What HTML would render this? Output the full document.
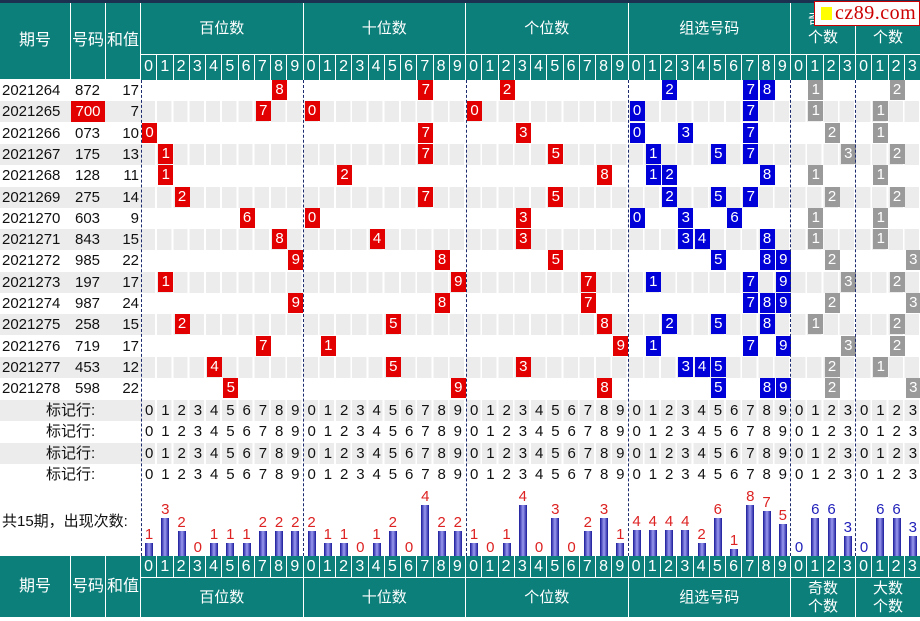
<!DOCTYPE html>
<html><head><meta charset="utf-8">
<style>
*{margin:0;padding:0;box-sizing:border-box}
body{width:920px;height:621px;position:relative;background:#fff;font-family:"Liberation Sans","Noto Sans CJK SC",sans-serif;overflow:hidden}
div,i,b,span{position:absolute;font-style:normal;font-weight:normal}
.tl{background:#0c7f7a;color:#fff;text-align:center;font-size:15px;display:flex;align-items:center;justify-content:center;border-right:1px solid #fff;border-bottom:1px solid #fff;line-height:1.2}
.g0{--b:141px}.g1{--b:303.5px}.g2{--b:466px}.g3{--b:628.5px}.q0{--b:791px}.q1{--b:856px}
.d{left:calc(var(--b) + var(--c)*16.25px);width:16.25px;height:100%;text-align:center}
.hd{background:#0c7f7a;color:#fff;font-size:16px;border-right:1px solid #fff;line-height:24px}
.row{left:0;width:920px;height:21px;font-size:15px;line-height:21px;color:#111}
.gr::before{content:"";position:absolute;left:0;top:0;width:141px;height:21px;background:#ececec}
.gr::after{content:"";position:absolute;left:141px;top:0;width:779px;height:21px;background:repeating-linear-gradient(90deg,#ececec 0 14.25px,#fff 14.25px 16.25px)}
.row>*{z-index:1}
.m{left:calc(var(--b) + var(--c)*16.25px + 1px);width:15px;height:20px;top:0;color:#fff;text-align:center;line-height:20px;font-size:15px}
.r{background:#e20000}.bl{background:#0000d8}.gy{background:#9a9a9a}
.vl{top:80px;height:476px;width:0;border-left:1.5px dashed #1c2a6e;z-index:2}
.mk{font-size:15px;line-height:21px;letter-spacing:7.9px}
.bar{bottom:65px;left:calc(var(--b) + var(--c)*16.25px + 4px);width:8px;background:linear-gradient(90deg,#1a1a9a,#9a9af0 50%,#1a1a9a)}
.bar em{position:absolute;bottom:100%;left:-4px;width:16px;text-align:center;font-style:normal;font-size:15px;color:#d22;line-height:17px}
.bar.z{background:none}
.bb em{color:#2222bb}
</style></head><body>
<div style="left:0;top:0;width:920px;height:3px;background:#1c3050"></div>
<div class="tl" style="left:0;top:3px;width:71px;height:77px;font-size:16px">期号</div>
<div class="tl" style="left:71px;top:3px;width:35px;height:77px;font-size:16px">号码</div>
<div class="tl" style="left:106px;top:3px;width:35px;height:77px;font-size:16px">和值</div>
<div class="tl" style="left:141px;top:3px;width:162.5px;height:52px">百位数</div>
<div class="tl" style="left:303.5px;top:3px;width:162.5px;height:52px">十位数</div>
<div class="tl" style="left:466px;top:3px;width:162.5px;height:52px">个位数</div>
<div class="tl" style="left:628.5px;top:3px;width:162.5px;height:52px">组选号码</div>
<div class="tl" style="left:791px;top:3px;width:65px;height:52px">奇数<br>个数</div>
<div class="tl" style="left:856px;top:3px;width:64px;height:52px;border-right:0">大数<br>个数</div>
<div style="left:0;top:55px;width:920px;height:25px">
<i class="d hd g0" style="--c:0">0</i><i class="d hd g0" style="--c:1">1</i><i class="d hd g0" style="--c:2">2</i><i class="d hd g0" style="--c:3">3</i><i class="d hd g0" style="--c:4">4</i><i class="d hd g0" style="--c:5">5</i><i class="d hd g0" style="--c:6">6</i><i class="d hd g0" style="--c:7">7</i><i class="d hd g0" style="--c:8">8</i><i class="d hd g0" style="--c:9">9</i>
<i class="d hd g1" style="--c:0">0</i><i class="d hd g1" style="--c:1">1</i><i class="d hd g1" style="--c:2">2</i><i class="d hd g1" style="--c:3">3</i><i class="d hd g1" style="--c:4">4</i><i class="d hd g1" style="--c:5">5</i><i class="d hd g1" style="--c:6">6</i><i class="d hd g1" style="--c:7">7</i><i class="d hd g1" style="--c:8">8</i><i class="d hd g1" style="--c:9">9</i>
<i class="d hd g2" style="--c:0">0</i><i class="d hd g2" style="--c:1">1</i><i class="d hd g2" style="--c:2">2</i><i class="d hd g2" style="--c:3">3</i><i class="d hd g2" style="--c:4">4</i><i class="d hd g2" style="--c:5">5</i><i class="d hd g2" style="--c:6">6</i><i class="d hd g2" style="--c:7">7</i><i class="d hd g2" style="--c:8">8</i><i class="d hd g2" style="--c:9">9</i>
<i class="d hd g3" style="--c:0">0</i><i class="d hd g3" style="--c:1">1</i><i class="d hd g3" style="--c:2">2</i><i class="d hd g3" style="--c:3">3</i><i class="d hd g3" style="--c:4">4</i><i class="d hd g3" style="--c:5">5</i><i class="d hd g3" style="--c:6">6</i><i class="d hd g3" style="--c:7">7</i><i class="d hd g3" style="--c:8">8</i><i class="d hd g3" style="--c:9">9</i>
<i class="d hd q0" style="--c:0">0</i><i class="d hd q0" style="--c:1">1</i><i class="d hd q0" style="--c:2">2</i><i class="d hd q0" style="--c:3">3</i>
<i class="d hd q1" style="--c:0">0</i><i class="d hd q1" style="--c:1">1</i><i class="d hd q1" style="--c:2">2</i><i class="d hd q1" style="--c:3">3</i>
</div>

<div class="row" style="top:80px"><span style="left:2px">2021264</span><span style="left:75px">872</span><span style="left:106px;width:33px;text-align:right">17</span><i class="m r g0" style="--c:8">8</i><i class="m r g1" style="--c:7">7</i><i class="m r g2" style="--c:2">2</i><i class="m bl g3" style="--c:2">2</i><i class="m bl g3" style="--c:7">7</i><i class="m bl g3" style="--c:8">8</i><i class="m gy q0" style="--c:1">1</i><i class="m gy q1" style="--c:2">2</i></div>
<div class="row gr" style="top:101px"><span style="left:2px">2021265</span><span style="left:71px;width:34px;background:#e20000;color:#fff;text-align:center">700</span><span style="left:106px;width:33px;text-align:right">7</span><i class="m r g0" style="--c:7">7</i><i class="m r g1" style="--c:0">0</i><i class="m r g2" style="--c:0">0</i><i class="m bl g3" style="--c:0">0</i><i class="m bl g3" style="--c:7">7</i><i class="m gy q0" style="--c:1">1</i><i class="m gy q1" style="--c:1">1</i></div>
<div class="row" style="top:123px"><span style="left:2px">2021266</span><span style="left:75px">073</span><span style="left:106px;width:33px;text-align:right">10</span><i class="m r g0" style="--c:0">0</i><i class="m r g1" style="--c:7">7</i><i class="m r g2" style="--c:3">3</i><i class="m bl g3" style="--c:0">0</i><i class="m bl g3" style="--c:3">3</i><i class="m bl g3" style="--c:7">7</i><i class="m gy q0" style="--c:2">2</i><i class="m gy q1" style="--c:1">1</i></div>
<div class="row gr" style="top:144px"><span style="left:2px">2021267</span><span style="left:75px">175</span><span style="left:106px;width:33px;text-align:right">13</span><i class="m r g0" style="--c:1">1</i><i class="m r g1" style="--c:7">7</i><i class="m r g2" style="--c:5">5</i><i class="m bl g3" style="--c:1">1</i><i class="m bl g3" style="--c:5">5</i><i class="m bl g3" style="--c:7">7</i><i class="m gy q0" style="--c:3">3</i><i class="m gy q1" style="--c:2">2</i></div>
<div class="row" style="top:165px"><span style="left:2px">2021268</span><span style="left:75px">128</span><span style="left:106px;width:33px;text-align:right">11</span><i class="m r g0" style="--c:1">1</i><i class="m r g1" style="--c:2">2</i><i class="m r g2" style="--c:8">8</i><i class="m bl g3" style="--c:1">1</i><i class="m bl g3" style="--c:2">2</i><i class="m bl g3" style="--c:8">8</i><i class="m gy q0" style="--c:1">1</i><i class="m gy q1" style="--c:1">1</i></div>
<div class="row gr" style="top:187px"><span style="left:2px">2021269</span><span style="left:75px">275</span><span style="left:106px;width:33px;text-align:right">14</span><i class="m r g0" style="--c:2">2</i><i class="m r g1" style="--c:7">7</i><i class="m r g2" style="--c:5">5</i><i class="m bl g3" style="--c:2">2</i><i class="m bl g3" style="--c:5">5</i><i class="m bl g3" style="--c:7">7</i><i class="m gy q0" style="--c:2">2</i><i class="m gy q1" style="--c:2">2</i></div>
<div class="row" style="top:208px"><span style="left:2px">2021270</span><span style="left:75px">603</span><span style="left:106px;width:33px;text-align:right">9</span><i class="m r g0" style="--c:6">6</i><i class="m r g1" style="--c:0">0</i><i class="m r g2" style="--c:3">3</i><i class="m bl g3" style="--c:0">0</i><i class="m bl g3" style="--c:3">3</i><i class="m bl g3" style="--c:6">6</i><i class="m gy q0" style="--c:1">1</i><i class="m gy q1" style="--c:1">1</i></div>
<div class="row gr" style="top:229px"><span style="left:2px">2021271</span><span style="left:75px">843</span><span style="left:106px;width:33px;text-align:right">15</span><i class="m r g0" style="--c:8">8</i><i class="m r g1" style="--c:4">4</i><i class="m r g2" style="--c:3">3</i><i class="m bl g3" style="--c:3">3</i><i class="m bl g3" style="--c:4">4</i><i class="m bl g3" style="--c:8">8</i><i class="m gy q0" style="--c:1">1</i><i class="m gy q1" style="--c:1">1</i></div>
<div class="row" style="top:250px"><span style="left:2px">2021272</span><span style="left:75px">985</span><span style="left:106px;width:33px;text-align:right">22</span><i class="m r g0" style="--c:9">9</i><i class="m r g1" style="--c:8">8</i><i class="m r g2" style="--c:5">5</i><i class="m bl g3" style="--c:5">5</i><i class="m bl g3" style="--c:8">8</i><i class="m bl g3" style="--c:9">9</i><i class="m gy q0" style="--c:2">2</i><i class="m gy q1" style="--c:3">3</i></div>
<div class="row gr" style="top:272px"><span style="left:2px">2021273</span><span style="left:75px">197</span><span style="left:106px;width:33px;text-align:right">17</span><i class="m r g0" style="--c:1">1</i><i class="m r g1" style="--c:9">9</i><i class="m r g2" style="--c:7">7</i><i class="m bl g3" style="--c:1">1</i><i class="m bl g3" style="--c:7">7</i><i class="m bl g3" style="--c:9">9</i><i class="m gy q0" style="--c:3">3</i><i class="m gy q1" style="--c:2">2</i></div>
<div class="row" style="top:293px"><span style="left:2px">2021274</span><span style="left:75px">987</span><span style="left:106px;width:33px;text-align:right">24</span><i class="m r g0" style="--c:9">9</i><i class="m r g1" style="--c:8">8</i><i class="m r g2" style="--c:7">7</i><i class="m bl g3" style="--c:7">7</i><i class="m bl g3" style="--c:8">8</i><i class="m bl g3" style="--c:9">9</i><i class="m gy q0" style="--c:2">2</i><i class="m gy q1" style="--c:3">3</i></div>
<div class="row gr" style="top:314px"><span style="left:2px">2021275</span><span style="left:75px">258</span><span style="left:106px;width:33px;text-align:right">15</span><i class="m r g0" style="--c:2">2</i><i class="m r g1" style="--c:5">5</i><i class="m r g2" style="--c:8">8</i><i class="m bl g3" style="--c:2">2</i><i class="m bl g3" style="--c:5">5</i><i class="m bl g3" style="--c:8">8</i><i class="m gy q0" style="--c:1">1</i><i class="m gy q1" style="--c:2">2</i></div>
<div class="row" style="top:336px"><span style="left:2px">2021276</span><span style="left:75px">719</span><span style="left:106px;width:33px;text-align:right">17</span><i class="m r g0" style="--c:7">7</i><i class="m r g1" style="--c:1">1</i><i class="m r g2" style="--c:9">9</i><i class="m bl g3" style="--c:1">1</i><i class="m bl g3" style="--c:7">7</i><i class="m bl g3" style="--c:9">9</i><i class="m gy q0" style="--c:3">3</i><i class="m gy q1" style="--c:2">2</i></div>
<div class="row gr" style="top:357px"><span style="left:2px">2021277</span><span style="left:75px">453</span><span style="left:106px;width:33px;text-align:right">12</span><i class="m r g0" style="--c:4">4</i><i class="m r g1" style="--c:5">5</i><i class="m r g2" style="--c:3">3</i><i class="m bl g3" style="--c:3">3</i><i class="m bl g3" style="--c:4">4</i><i class="m bl g3" style="--c:5">5</i><i class="m gy q0" style="--c:2">2</i><i class="m gy q1" style="--c:1">1</i></div>
<div class="row" style="top:378px"><span style="left:2px">2021278</span><span style="left:75px">598</span><span style="left:106px;width:33px;text-align:right">22</span><i class="m r g0" style="--c:5">5</i><i class="m r g1" style="--c:9">9</i><i class="m r g2" style="--c:8">8</i><i class="m bl g3" style="--c:5">5</i><i class="m bl g3" style="--c:8">8</i><i class="m bl g3" style="--c:9">9</i><i class="m gy q0" style="--c:2">2</i><i class="m gy q1" style="--c:3">3</i></div>

<div class="row gr" style="top:400px"><span style="left:46px">标记行:</span><span class="mk" style="left:145px">0123456789</span><span class="mk" style="left:307.5px">0123456789</span><span class="mk" style="left:470px">0123456789</span><span class="mk" style="left:632.5px">0123456789</span><span class="mk" style="left:795px">0123</span><span class="mk" style="left:860px">0123</span></div>
<div class="row" style="top:421px"><span style="left:46px">标记行:</span><span class="mk" style="left:145px">0123456789</span><span class="mk" style="left:307.5px">0123456789</span><span class="mk" style="left:470px">0123456789</span><span class="mk" style="left:632.5px">0123456789</span><span class="mk" style="left:795px">0123</span><span class="mk" style="left:860px">0123</span></div>
<div class="row gr" style="top:443px"><span style="left:46px">标记行:</span><span class="mk" style="left:145px">0123456789</span><span class="mk" style="left:307.5px">0123456789</span><span class="mk" style="left:470px">0123456789</span><span class="mk" style="left:632.5px">0123456789</span><span class="mk" style="left:795px">0123</span><span class="mk" style="left:860px">0123</span></div>
<div class="row" style="top:464px"><span style="left:46px">标记行:</span><span class="mk" style="left:145px">0123456789</span><span class="mk" style="left:307.5px">0123456789</span><span class="mk" style="left:470px">0123456789</span><span class="mk" style="left:632.5px">0123456789</span><span class="mk" style="left:795px">0123</span><span class="mk" style="left:860px">0123</span></div>

<div style="left:2px;top:510px;font-size:15px;color:#111">共15期，出现次数:</div>
<b class="bar g0" style="--c:0;height:13px"><em>1</em></b><b class="bar g0" style="--c:1;height:38px"><em>3</em></b><b class="bar g0" style="--c:2;height:25px"><em>2</em></b><b class="bar g0 z" style="--c:3;height:0"><em>0</em></b><b class="bar g0" style="--c:4;height:13px"><em>1</em></b><b class="bar g0" style="--c:5;height:13px"><em>1</em></b><b class="bar g0" style="--c:6;height:13px"><em>1</em></b><b class="bar g0" style="--c:7;height:25px"><em>2</em></b><b class="bar g0" style="--c:8;height:25px"><em>2</em></b><b class="bar g0" style="--c:9;height:25px"><em>2</em></b>
<b class="bar g1" style="--c:0;height:25px"><em>2</em></b><b class="bar g1" style="--c:1;height:13px"><em>1</em></b><b class="bar g1" style="--c:2;height:13px"><em>1</em></b><b class="bar g1 z" style="--c:3;height:0"><em>0</em></b><b class="bar g1" style="--c:4;height:13px"><em>1</em></b><b class="bar g1" style="--c:5;height:25px"><em>2</em></b><b class="bar g1 z" style="--c:6;height:0"><em>0</em></b><b class="bar g1" style="--c:7;height:51px"><em>4</em></b><b class="bar g1" style="--c:8;height:25px"><em>2</em></b><b class="bar g1" style="--c:9;height:25px"><em>2</em></b>
<b class="bar g2" style="--c:0;height:13px"><em>1</em></b><b class="bar g2 z" style="--c:1;height:0"><em>0</em></b><b class="bar g2" style="--c:2;height:13px"><em>1</em></b><b class="bar g2" style="--c:3;height:51px"><em>4</em></b><b class="bar g2 z" style="--c:4;height:0"><em>0</em></b><b class="bar g2" style="--c:5;height:38px"><em>3</em></b><b class="bar g2 z" style="--c:6;height:0"><em>0</em></b><b class="bar g2" style="--c:7;height:25px"><em>2</em></b><b class="bar g2" style="--c:8;height:38px"><em>3</em></b><b class="bar g2" style="--c:9;height:13px"><em>1</em></b>
<b class="bar g3" style="--c:0;height:26px"><em>4</em></b><b class="bar g3" style="--c:1;height:26px"><em>4</em></b><b class="bar g3" style="--c:2;height:26px"><em>4</em></b><b class="bar g3" style="--c:3;height:26px"><em>4</em></b><b class="bar g3" style="--c:4;height:13px"><em>2</em></b><b class="bar g3" style="--c:5;height:38px"><em>6</em></b><b class="bar g3" style="--c:6;height:7px"><em>1</em></b><b class="bar g3" style="--c:7;height:51px"><em>8</em></b><b class="bar g3" style="--c:8;height:45px"><em>7</em></b><b class="bar g3" style="--c:9;height:32px"><em>5</em></b>
<b class="bar q0 z bb" style="--c:0;height:0"><em>0</em></b><b class="bar q0 bb" style="--c:1;height:38px"><em>6</em></b><b class="bar q0 bb" style="--c:2;height:38px"><em>6</em></b><b class="bar q0 bb" style="--c:3;height:20px"><em>3</em></b>
<b class="bar q1 z bb" style="--c:0;height:0"><em>0</em></b><b class="bar q1 bb" style="--c:1;height:38px"><em>6</em></b><b class="bar q1 bb" style="--c:2;height:38px"><em>6</em></b><b class="bar q1 bb" style="--c:3;height:20px"><em>3</em></b>

<div class="vl" style="left:141px"></div><div class="vl" style="left:303px"></div><div class="vl" style="left:466px"></div><div class="vl" style="left:628px"></div><div class="vl" style="left:790px"></div><div class="vl" style="left:855px"></div>

<div style="left:0;top:556px;width:920px;height:21px;background:#fff;z-index:3">
<i class="d hd g0" style="--c:0;line-height:21px">0</i><i class="d hd g0" style="--c:1;line-height:21px">1</i><i class="d hd g0" style="--c:2;line-height:21px">2</i><i class="d hd g0" style="--c:3;line-height:21px">3</i><i class="d hd g0" style="--c:4;line-height:21px">4</i><i class="d hd g0" style="--c:5;line-height:21px">5</i><i class="d hd g0" style="--c:6;line-height:21px">6</i><i class="d hd g0" style="--c:7;line-height:21px">7</i><i class="d hd g0" style="--c:8;line-height:21px">8</i><i class="d hd g0" style="--c:9;line-height:21px">9</i>
<i class="d hd g1" style="--c:0;line-height:21px">0</i><i class="d hd g1" style="--c:1;line-height:21px">1</i><i class="d hd g1" style="--c:2;line-height:21px">2</i><i class="d hd g1" style="--c:3;line-height:21px">3</i><i class="d hd g1" style="--c:4;line-height:21px">4</i><i class="d hd g1" style="--c:5;line-height:21px">5</i><i class="d hd g1" style="--c:6;line-height:21px">6</i><i class="d hd g1" style="--c:7;line-height:21px">7</i><i class="d hd g1" style="--c:8;line-height:21px">8</i><i class="d hd g1" style="--c:9;line-height:21px">9</i>
<i class="d hd g2" style="--c:0;line-height:21px">0</i><i class="d hd g2" style="--c:1;line-height:21px">1</i><i class="d hd g2" style="--c:2;line-height:21px">2</i><i class="d hd g2" style="--c:3;line-height:21px">3</i><i class="d hd g2" style="--c:4;line-height:21px">4</i><i class="d hd g2" style="--c:5;line-height:21px">5</i><i class="d hd g2" style="--c:6;line-height:21px">6</i><i class="d hd g2" style="--c:7;line-height:21px">7</i><i class="d hd g2" style="--c:8;line-height:21px">8</i><i class="d hd g2" style="--c:9;line-height:21px">9</i>
<i class="d hd g3" style="--c:0;line-height:21px">0</i><i class="d hd g3" style="--c:1;line-height:21px">1</i><i class="d hd g3" style="--c:2;line-height:21px">2</i><i class="d hd g3" style="--c:3;line-height:21px">3</i><i class="d hd g3" style="--c:4;line-height:21px">4</i><i class="d hd g3" style="--c:5;line-height:21px">5</i><i class="d hd g3" style="--c:6;line-height:21px">6</i><i class="d hd g3" style="--c:7;line-height:21px">7</i><i class="d hd g3" style="--c:8;line-height:21px">8</i><i class="d hd g3" style="--c:9;line-height:21px">9</i>
<i class="d hd q0" style="--c:0;line-height:21px">0</i><i class="d hd q0" style="--c:1;line-height:21px">1</i><i class="d hd q0" style="--c:2;line-height:21px">2</i><i class="d hd q0" style="--c:3;line-height:21px">3</i>
<i class="d hd q1" style="--c:0;line-height:21px">0</i><i class="d hd q1" style="--c:1;line-height:21px">1</i><i class="d hd q1" style="--c:2;line-height:21px">2</i><i class="d hd q1" style="--c:3;line-height:21px">3</i>
</div>
<div class="tl" style="left:0;top:556px;width:71px;height:62px;font-size:16px;z-index:3">期号</div>
<div class="tl" style="left:71px;top:556px;width:35px;height:62px;font-size:16px;z-index:3">号码</div>
<div class="tl" style="left:106px;top:556px;width:35px;height:62px;font-size:16px;z-index:3">和值</div>
<div class="tl" style="left:141px;top:578px;width:162.5px;height:40px;z-index:3">百位数</div>
<div class="tl" style="left:303.5px;top:578px;width:162.5px;height:40px;z-index:3">十位数</div>
<div class="tl" style="left:466px;top:578px;width:162.5px;height:40px;z-index:3">个位数</div>
<div class="tl" style="left:628.5px;top:578px;width:162.5px;height:40px;z-index:3">组选号码</div>
<div class="tl" style="left:791px;top:578px;width:65px;height:40px;z-index:3">奇数<br>个数</div>
<div class="tl" style="left:856px;top:578px;width:64px;height:40px;border-right:0;z-index:3">大数<br>个数</div>

<div style="left:814px;top:1px;width:106px;height:25px;background:#fff;border:1px solid #c00;z-index:4"></div>
<div style="left:821px;top:7px;width:11px;height:13px;background:#ff0;z-index:4"></div>
<div style="left:835px;top:1px;font-family:'Liberation Serif',serif;font-size:20px;color:#c00;line-height:24px;letter-spacing:0.5px;z-index:4">cz89.com</div>
</body></html>
